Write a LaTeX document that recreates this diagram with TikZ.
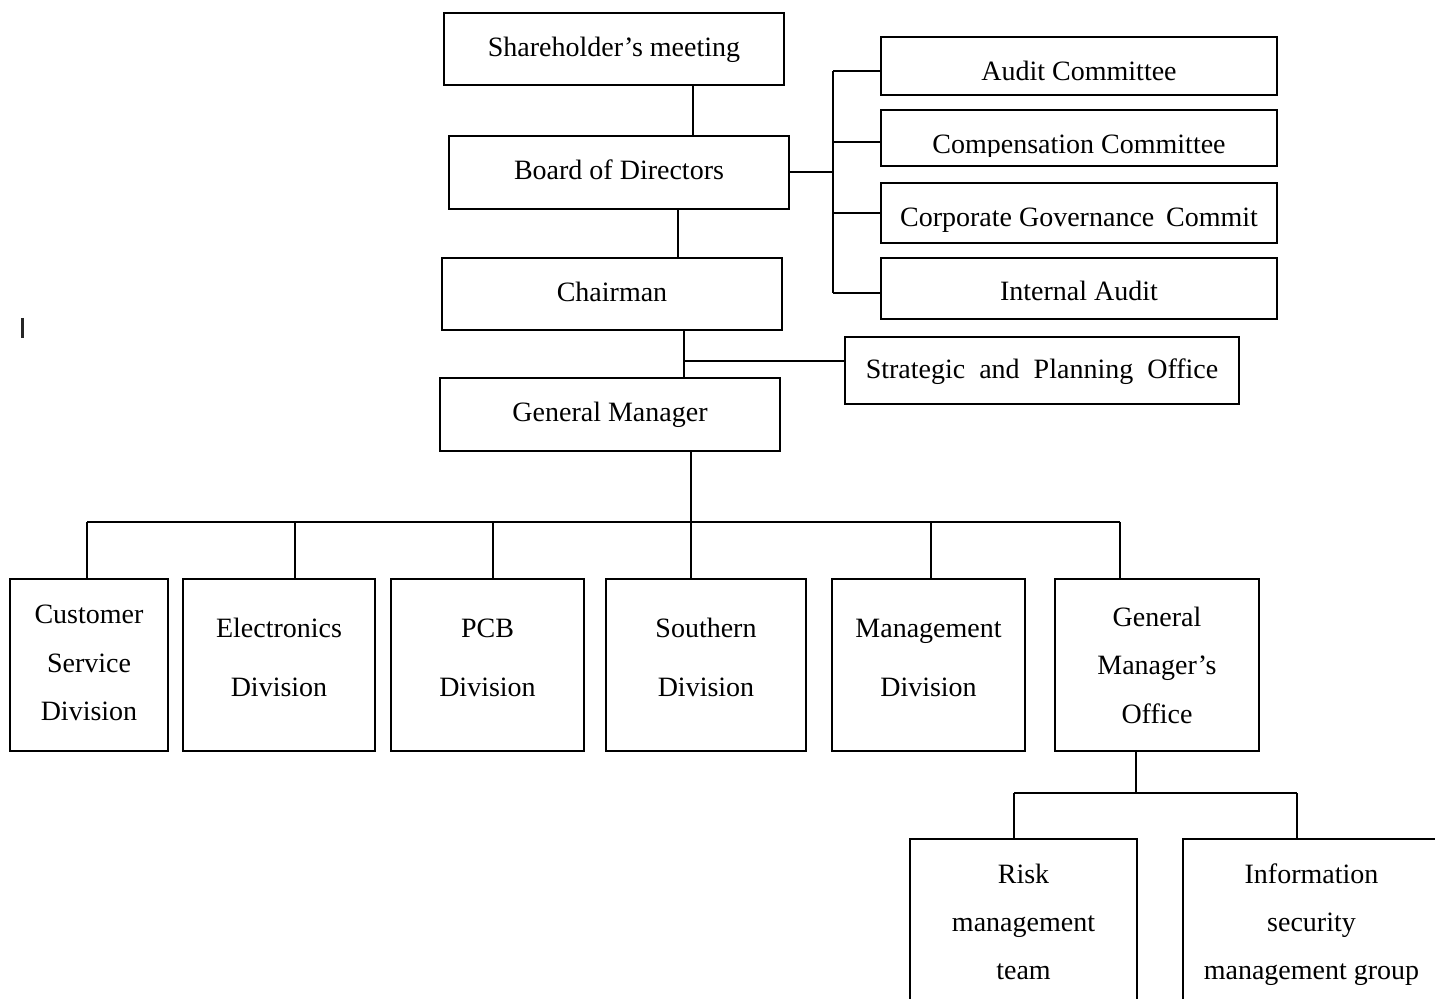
\documentclass[tikz,border=0pt]{standalone}
\usepackage{fontspec}
\setmainfont{Liberation Serif}
\tikzset{
  boxst/.style={draw=black, line width=1pt, rectangle, inner sep=0pt, outer sep=0pt, fill=none},
  txt/.style={inner sep=0pt, outer sep=0pt, anchor=base, font=\fontsize{14}{17}\selectfont},
  conn/.style={draw=black, line width=1pt}
}
\newcommand{\mybox}[5]{\node[boxst, minimum width={(#4-#2)*0.5pt}, minimum height={(#5-#3)*0.5pt}] (#1) at ({(#2+#4)/2},{(#3+#5)/2}) {};}
\newcommand{\mytxt}[4]{\node[txt] (#1) at (#2.center |- 0,#3) {#4};}
\begin{document}
\begin{tikzpicture}[x=0.5pt, y=-0.5pt]
\clip (0,0) rectangle (1435,999);
\fill[white] (0,0) rectangle (1435,999);

% top column
\mybox{sm}{444}{13}{784}{85}
\mytxt{smt}{sm}{57}{Shareholder’s meeting}
\mybox{bd}{449}{136}{789}{209}
\mytxt{bdt}{bd}{180}{Board of Directors}
\mybox{ch}{442}{258}{782}{330}
\mytxt{cht}{ch}{302}{Chairman}
\mybox{gm}{440}{378}{780}{451}
\mytxt{gmt}{gm}{422}{General Manager}

% committees
\mybox{ac}{881}{37}{1277}{95}
\mytxt{act}{ac}{81}{Audit Committee}
\mybox{cc}{881}{110}{1277}{166}
\begin{scope}
\clip (881,110) rectangle (1277,156.5);
\mytxt{cct}{cc}{154}{Compensation Committee}
\end{scope}
\mybox{cg}{881}{183}{1277}{243}
\mytxt{cgt}{cg}{227}{Corporate Governance\hspace{0.42em}Commit}
\mybox{ia}{881}{258}{1277}{319}
\mytxt{iat}{ia}{301}{Internal Audit}

% strategic
\mybox{sp}{845}{337}{1239}{404}
\mytxt{spt}{sp}{379}{Strategic\hspace{0.5em}and\hspace{0.5em}Planning\hspace{0.5em}Office}

% divisions
\mybox{cs}{10}{579}{168}{751}
\mytxt{cs1}{cs}{624}{Customer}
\mytxt{cs2}{cs}{672}{Service}
\mytxt{cs3}{cs}{720}{Division}
\mybox{el}{183}{579}{375}{751}
\mytxt{el1}{el}{638}{Electronics}
\mytxt{el2}{el}{697}{Division}
\mybox{pc}{391}{579}{584}{751}
\mytxt{pc1}{pc}{638}{PCB}
\mytxt{pc2}{pc}{697}{Division}
\mybox{so}{606}{579}{806}{751}
\mytxt{so1}{so}{638}{Southern}
\mytxt{so2}{so}{697}{Division}
\mybox{md}{832}{579}{1025}{751}
\mytxt{md1}{md}{638}{Management}
\mytxt{md2}{md}{697}{Division}
\mybox{go}{1055}{579}{1259}{751}
\mytxt{go1}{go}{627}{General}
\mytxt{go2}{go}{675}{Manager’s}
\mytxt{go3}{go}{723}{Office}

% bottom teams
\mybox{rm}{910}{839}{1137}{1015}
\mytxt{rm1}{rm}{883}{Risk}
\mytxt{rm2}{rm}{931}{management}
\mytxt{rm3}{rm}{979}{team}
\mybox{is}{1183}{839}{1440}{1015}
\mytxt{is1}{is}{883}{Information}
\mytxt{is2}{is}{931}{security}
\mytxt{is3}{is}{979}{management group}

% connectors: top column
\draw[conn] (693,0 |- sm.south) -- (693,0 |- bd.north);
\draw[conn] (678,0 |- bd.south) -- (678,0 |- ch.north);
\draw[conn] (684,0 |- ch.south) -- (684,0 |- gm.north);
\coordinate (spj) at (684,361);
\draw[conn] (spj) -- (spj -| sp.west);

% committees bus
\coordinate (cbt) at (833,71);
\coordinate (cbb) at (833,293);
\draw[conn] (bd.east) -- (bd.east -| cbt);
\draw[conn] (cbt) -- (cbb);
\draw[conn] (cbt) -- (cbt -| ac.west);
\draw[conn] (833,142) -- (833,142 -| cc.west);
\draw[conn] (833,213) -- (833,213 -| cg.west);
\draw[conn] (cbb) -- (cbb -| ia.west);

% division bus
\coordinate (dbl) at (87,522);
\coordinate (dbr) at (1120,522);
\draw[conn] (691,0 |- gm.south) -- (691,0 |- so.north);
\draw[conn] (dbl) -- (dbr);
\draw[conn] (dbl) -- (dbl |- cs.north);
\draw[conn] (295,522) -- (295,0 |- el.north);
\draw[conn] (493,522) -- (493,0 |- pc.north);
\draw[conn] (931,522) -- (931,0 |- md.north);
\draw[conn] (dbr) -- (dbr |- go.north);

% GM office bus
\coordinate (gbl) at (1014,793);
\coordinate (gbr) at (1297,793);
\draw[conn] (1136,0 |- go.south) -- (1136,793);
\draw[conn] (gbl) -- (gbr);
\draw[conn] (gbl) -- (gbl |- rm.north);
\draw[conn] (gbr) -- (gbr |- is.north);

% stray mark
\draw[line width=1.2pt, black!85] (22.5,318) -- (22.5,338);
\end{tikzpicture}
\end{document}
